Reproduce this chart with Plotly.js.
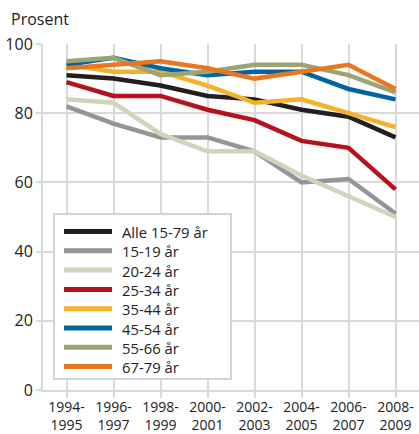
<!DOCTYPE html>
<html><head><meta charset="utf-8">
<script src="https://cdn.plot.ly/plotly-3.0.1.min.js"></script>
<style>html,body{margin:0;padding:0;background:#fff}#c{width:419px;height:434px}</style>
</head><body><div id="c"></div>
<script>
const periods = ["1994-<br>1995","1996-<br>1997","1998-<br>1999","2000-<br>2001","2002-<br>2003","2004-<br>2005","2006-<br>2007","2008-<br>2009"];
const seriesNames = ["Alle 15-79 år","15-19 år","20-24 år","25-34 år","35-44 år","45-54 år","55-66 år","67-79 år"];
const alle = [91, 90, 88, 85, 84, 81, 79, 73];
const a15_19 = [82, 77, 73, 73, 69, 60, 61, 51];
const a20_24 = [84, 83, 74, 69, 69, 62, 56, 50];
const a25_34 = [89, 85, 85, 81, 78, 72, 70, 58];
const a35_44 = [94, 92, 92, 88, 83, 84, 80, 76];
const a45_54 = [94, 96, 93, 91, 92, 92, 87, 84];
const a55_66 = [95, 96, 91, 92, 94, 94, 91, 86];
const a67_79 = [93, 94, 95, 93, 90, 92, 94, 87];
const colors = ["#231f20","#939598","#d2d3bc","#b5121b","#f3b229","#00649f","#9ca375","#e87722"];
const values = [alle,a15_19,a20_24,a25_34,a35_44,a45_54,a55_66,a67_79];
const x = [0,1,2,3,4,5,6,7];

const W = 419, H = 434, ML = 43, MR = 0, MT = 44, MB = 44;
const PW = W - ML - MR, PH = H - MT - MB;
const px = p => (p - ML) / PW;      // pixel x -> paper x
const py = p => (H - MB - p) / PH;  // pixel y -> paper y

const traces = values.map((v,i)=>({
  type:"scatter", mode:"lines", x:x, y:v, name:seriesNames[i],
  line:{color:colors[i], width:4.5}, showlegend:false
}));

// hand-built legend box (layout decoration)
const shapes = [{
  type:"rect", xref:"paper", yref:"paper", layer:"above",
  x0:px(54), x1:px(231), y0:py(214), y1:py(379),
  fillcolor:"#fff", line:{color:"#d4d4d4", width:2}
}];
const annotations = [{
  text:"Prosent", xref:"paper", yref:"paper", x:px(9), y:py(19),
  xanchor:"left", yanchor:"middle", showarrow:false,
  font:{size:16, color:"#222"}
}];
seriesNames.forEach((n,i)=>{
  const yy = 231.5 + i*19.3;
  shapes.push({type:"line", xref:"paper", yref:"paper", layer:"above",
    x0:px(64), x1:px(112), y0:py(yy), y1:py(yy),
    line:{color:colors[i], width:5}});
  annotations.push({text:n, xref:"paper", yref:"paper", x:px(121), y:py(yy+0.5),
    xanchor:"left", yanchor:"middle", showarrow:false, borderpad:0,
    font:{size:14.8, color:"#222"}});
});

const font = "'Open Sans', 'DejaVu Sans', sans-serif";
const layout = {
  width:W, height:H,
  margin:{l:ML, r:MR, t:MT, b:MB},
  paper_bgcolor:"#fff", plot_bgcolor:"#fff",
  showlegend:false,
  font:{family:font, color:"#222", size:14},
  xaxis:{
    range:[-0.5,7.5], tickvals:x, ticktext:periods,
    showgrid:true, gridcolor:"#d9d9d9", gridwidth:2,
    showline:true, linecolor:"#d9d9d9", linewidth:2,
    ticks:"outside", ticklen:6, tickcolor:"#d9d9d9", tickwidth:2,
    ticklabelstandoff:-3,
    tickfont:{size:14, color:"#222"}, zeroline:false, fixedrange:true
  },
  yaxis:{
    range:[0,100], tickvals:[0,20,40,60,80,100],
    showgrid:true, gridcolor:"#d9d9d9", gridwidth:2,
    showline:true, linecolor:"#d9d9d9", linewidth:2,
    ticks:"outside", ticklen:5, tickcolor:"#d9d9d9", tickwidth:2,
    tickfont:{size:16, color:"#222"}, zeroline:false, fixedrange:true
  },
  shapes:shapes,
  annotations:annotations
};
Plotly.newPlot("c", traces, layout, {displayModeBar:false, staticPlot:true});
</script></body></html>
